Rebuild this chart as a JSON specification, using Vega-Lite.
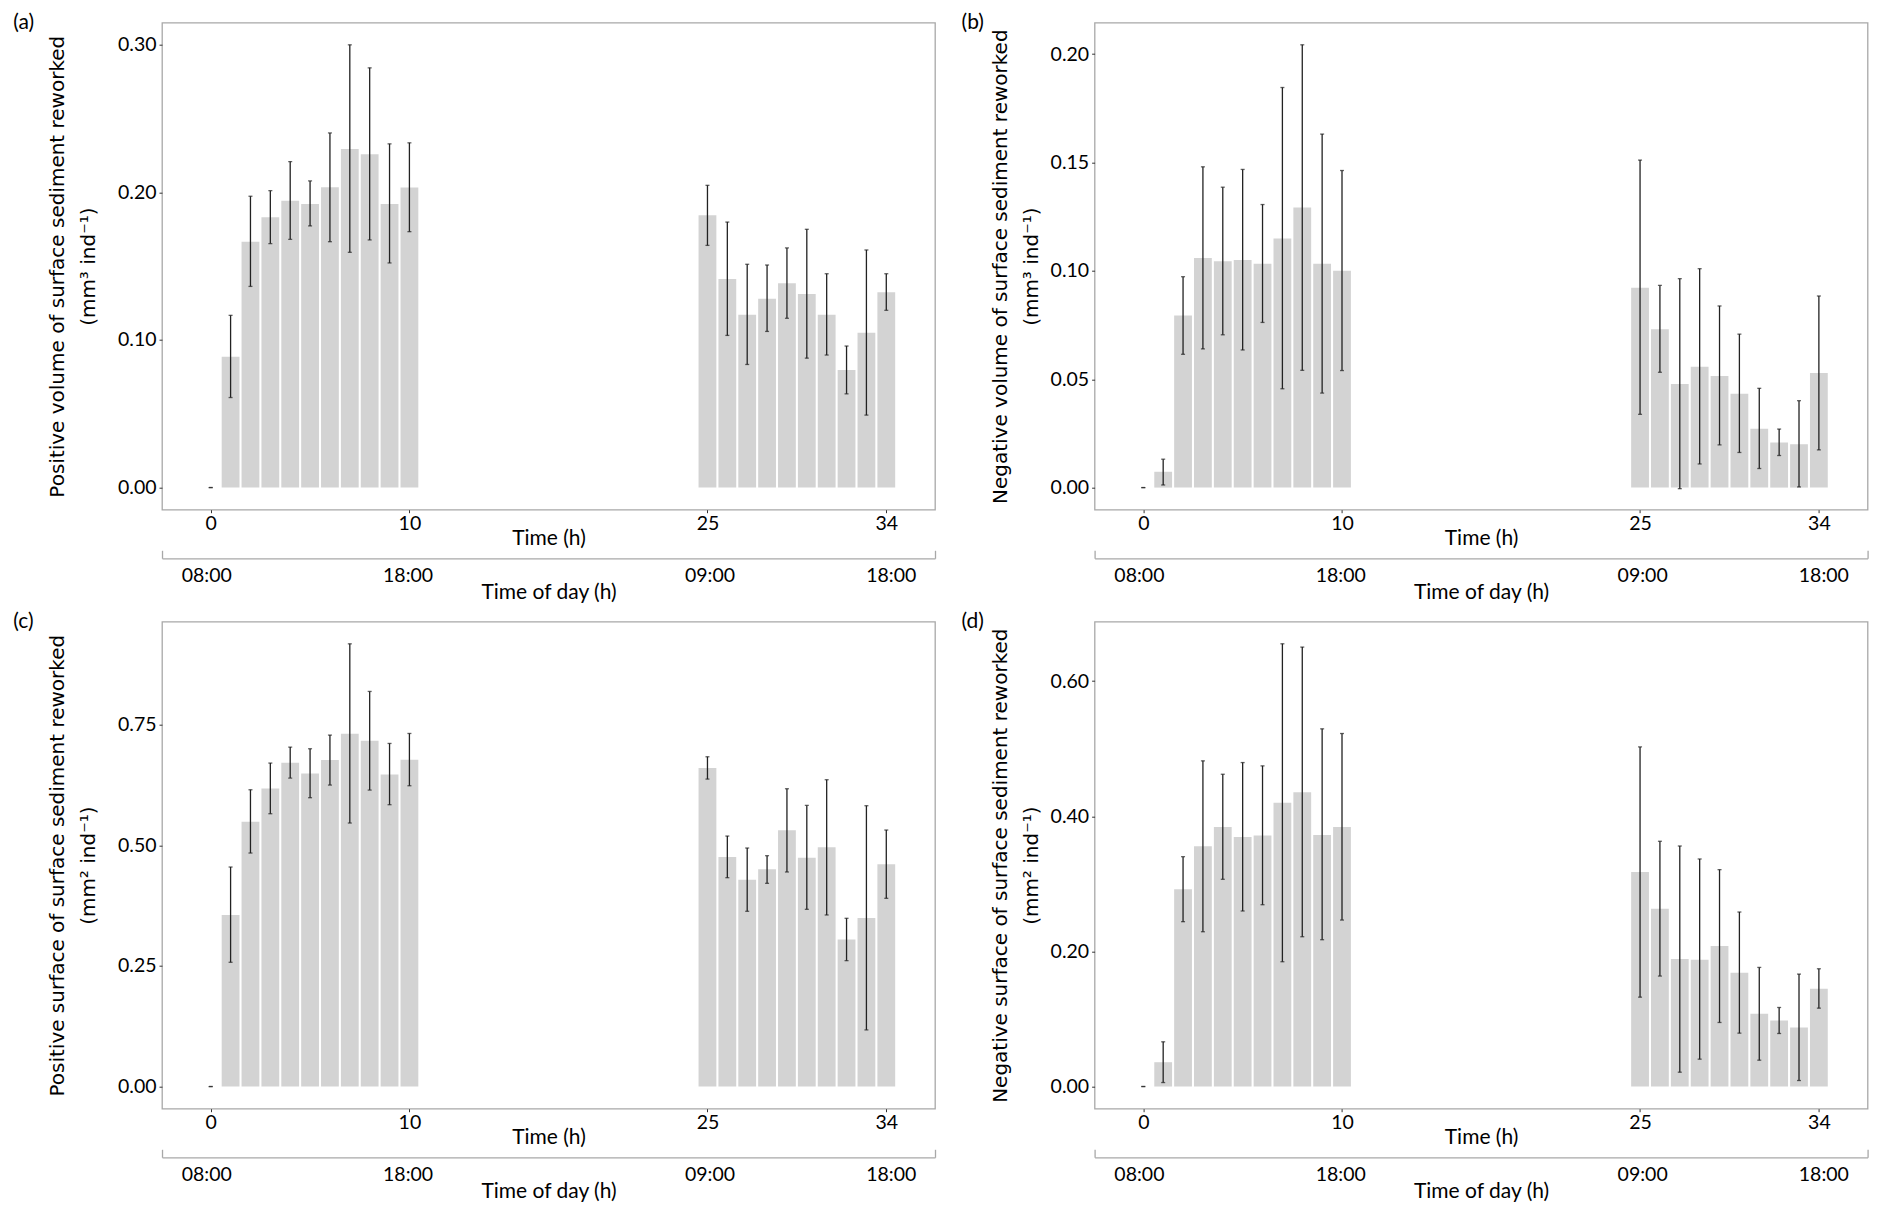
{
  "$schema": "https://vega.github.io/schema/vega-lite/v6.json",
  "padding": {"left": 12, "top": 10.7, "right": 5, "bottom": 5},
  "background": "white",
  "datasets": {
    "a": [
      {"t": 0, "mean": 0, "lo": 0, "hi": 0},
      {"t": 1, "mean": 0.0886, "lo": 0.0610, "hi": 0.1167},
      {"t": 2, "mean": 0.1666, "lo": 0.1363, "hi": 0.1974},
      {"t": 3, "mean": 0.1831, "lo": 0.1653, "hi": 0.2012},
      {"t": 4, "mean": 0.1944, "lo": 0.1682, "hi": 0.2209},
      {"t": 5, "mean": 0.1922, "lo": 0.1773, "hi": 0.2078},
      {"t": 6, "mean": 0.2035, "lo": 0.1666, "hi": 0.2403},
      {"t": 7, "mean": 0.2295, "lo": 0.1594, "hi": 0.3000},
      {"t": 8, "mean": 0.2259, "lo": 0.1678, "hi": 0.2844},
      {"t": 9, "mean": 0.1922, "lo": 0.1522, "hi": 0.2329},
      {"t": 10, "mean": 0.2033, "lo": 0.1734, "hi": 0.2336},
      {"t": 25, "mean": 0.1845, "lo": 0.1641, "hi": 0.2048},
      {"t": 26, "mean": 0.1413, "lo": 0.1031, "hi": 0.1799},
      {"t": 27, "mean": 0.1171, "lo": 0.0834, "hi": 0.1513},
      {"t": 28, "mean": 0.1280, "lo": 0.1058, "hi": 0.1508},
      {"t": 29, "mean": 0.1384, "lo": 0.1147, "hi": 0.1624},
      {"t": 30, "mean": 0.1311, "lo": 0.0877, "hi": 0.1750},
      {"t": 31, "mean": 0.1171, "lo": 0.0898, "hi": 0.1449},
      {"t": 32, "mean": 0.0796, "lo": 0.0635, "hi": 0.0959},
      {"t": 33, "mean": 0.1049, "lo": 0.0491, "hi": 0.1610},
      {"t": 34, "mean": 0.1323, "lo": 0.1201, "hi": 0.1449}
    ],
    "b": [
      {"t": 0, "mean": 0, "lo": 0, "hi": 0},
      {"t": 1, "mean": 0.0073, "lo": 0.0012, "hi": 0.0131},
      {"t": 2, "mean": 0.0794, "lo": 0.0615, "hi": 0.0973},
      {"t": 3, "mean": 0.1059, "lo": 0.0640, "hi": 0.1480},
      {"t": 4, "mean": 0.1044, "lo": 0.0705, "hi": 0.1386},
      {"t": 5, "mean": 0.1050, "lo": 0.0635, "hi": 0.1468},
      {"t": 6, "mean": 0.1033, "lo": 0.0762, "hi": 0.1306},
      {"t": 7, "mean": 0.1149, "lo": 0.0456, "hi": 0.1846},
      {"t": 8, "mean": 0.1292, "lo": 0.0541, "hi": 0.2043},
      {"t": 9, "mean": 0.1033, "lo": 0.0436, "hi": 0.1631},
      {"t": 10, "mean": 0.1001, "lo": 0.0540, "hi": 0.1463},
      {"t": 25, "mean": 0.0922, "lo": 0.0338, "hi": 0.1511},
      {"t": 26, "mean": 0.0731, "lo": 0.0532, "hi": 0.0933},
      {"t": 27, "mean": 0.0478, "lo": -0.0005, "hi": 0.0964},
      {"t": 28, "mean": 0.0558, "lo": 0.0109, "hi": 0.1010},
      {"t": 29, "mean": 0.0515, "lo": 0.0197, "hi": 0.0838},
      {"t": 30, "mean": 0.0433, "lo": 0.0162, "hi": 0.0708},
      {"t": 31, "mean": 0.0271, "lo": 0.0088, "hi": 0.0458},
      {"t": 32, "mean": 0.0208, "lo": 0.0148, "hi": 0.0270},
      {"t": 33, "mean": 0.0200, "lo": 0.0003, "hi": 0.0401},
      {"t": 34, "mean": 0.0529, "lo": 0.0174, "hi": 0.0884}
    ],
    "c": [
      {"t": 0, "mean": 0, "lo": 0, "hi": 0},
      {"t": 1, "mean": 0.3557, "lo": 0.2576, "hi": 0.4551},
      {"t": 2, "mean": 0.5490, "lo": 0.4841, "hi": 0.6153},
      {"t": 3, "mean": 0.6181, "lo": 0.5656, "hi": 0.6706},
      {"t": 4, "mean": 0.6713, "lo": 0.6395, "hi": 0.7037},
      {"t": 5, "mean": 0.6492, "lo": 0.5988, "hi": 0.7003},
      {"t": 6, "mean": 0.6768, "lo": 0.6250, "hi": 0.7286},
      {"t": 7, "mean": 0.7314, "lo": 0.5463, "hi": 0.9178},
      {"t": 8, "mean": 0.7169, "lo": 0.6146, "hi": 0.8191},
      {"t": 9, "mean": 0.6471, "lo": 0.5843, "hi": 0.7113},
      {"t": 10, "mean": 0.6775, "lo": 0.6236, "hi": 0.7320},
      {"t": 25, "mean": 0.6602, "lo": 0.6374, "hi": 0.6837},
      {"t": 26, "mean": 0.4758, "lo": 0.4330, "hi": 0.5193},
      {"t": 27, "mean": 0.4289, "lo": 0.3633, "hi": 0.4945},
      {"t": 28, "mean": 0.4503, "lo": 0.4213, "hi": 0.4786},
      {"t": 29, "mean": 0.5311, "lo": 0.4448, "hi": 0.6174},
      {"t": 30, "mean": 0.4745, "lo": 0.3674, "hi": 0.5829},
      {"t": 31, "mean": 0.4959, "lo": 0.3557, "hi": 0.6361},
      {"t": 32, "mean": 0.3046, "lo": 0.2610, "hi": 0.3488},
      {"t": 33, "mean": 0.3494, "lo": 0.1174, "hi": 0.5822},
      {"t": 34, "mean": 0.4606, "lo": 0.3902, "hi": 0.5318}
    ],
    "d": [
      {"t": 0, "mean": 0, "lo": 0, "hi": 0},
      {"t": 1, "mean": 0.0360, "lo": 0.0059, "hi": 0.0662},
      {"t": 2, "mean": 0.2919, "lo": 0.2440, "hi": 0.3402},
      {"t": 3, "mean": 0.3556, "lo": 0.2291, "hi": 0.4820},
      {"t": 4, "mean": 0.3842, "lo": 0.3067, "hi": 0.4622},
      {"t": 5, "mean": 0.3694, "lo": 0.2598, "hi": 0.4795},
      {"t": 6, "mean": 0.3714, "lo": 0.2691, "hi": 0.4746},
      {"t": 7, "mean": 0.4202, "lo": 0.1847, "hi": 0.6553},
      {"t": 8, "mean": 0.4356, "lo": 0.2217, "hi": 0.6504},
      {"t": 9, "mean": 0.3723, "lo": 0.2173, "hi": 0.5294},
      {"t": 10, "mean": 0.3842, "lo": 0.2464, "hi": 0.5225},
      {"t": 25, "mean": 0.3175, "lo": 0.1323, "hi": 0.5027},
      {"t": 26, "mean": 0.2632, "lo": 0.1635, "hi": 0.3630},
      {"t": 27, "mean": 0.1886, "lo": 0.0212, "hi": 0.3560},
      {"t": 28, "mean": 0.1877, "lo": 0.0405, "hi": 0.3368},
      {"t": 29, "mean": 0.2079, "lo": 0.0948, "hi": 0.3210},
      {"t": 30, "mean": 0.1684, "lo": 0.0790, "hi": 0.2583},
      {"t": 31, "mean": 0.1077, "lo": 0.0390, "hi": 0.1763},
      {"t": 32, "mean": 0.0978, "lo": 0.0785, "hi": 0.1170},
      {"t": 33, "mean": 0.0874, "lo": 0.0089, "hi": 0.1664},
      {"t": 34, "mean": 0.1447, "lo": 0.1160, "hi": 0.1743}
    ]
  },
  "config": {
    "view": {"stroke": "#a8a8a8", "strokeWidth": 1.3},
    "axis": {"grid": false, "labelFont": "Lato", "labelFontSize": 19.5, "labelColor": "#000", "titleFont": "Lato", "titleFontWeight": "normal", "titleColor": "#000"},
    "title": {"font": "Lato", "fontSize": 21, "fontWeight": "normal", "color": "#000"}
  },
  "columns": 2,
  "bounds": "flush",
  "spacing": {"row": 112, "column": 159.6},
  "concat": [
    {
      "data": {"name": "a"},
      "width": 773, "height": 487,
      "title": {"text": "(a)", "anchor": "start", "frame": "group", "dx": -148.7, "offset": -10.5, "baseline": "top"},
      "layer": [
        {
          "encoding": {
            "x": {"field": "t", "type": "quantitative", "scale": {"domain": [-2.2, 36.2], "nice": false, "zero": false},
              "axis": {"values": [0, 10, 25, 34], "title": "Time (h)", "domain": false, "tickSize": 3, "tickColor": "#333", "labelPadding": 2, "titleFontSize": 21, "titlePadding": -6, "labelOverlap": false, "labelFlush": false}}
          },
          "layer": [
            {"mark": {"type": "bar", "color": "#d3d3d3", "width": 17.8},
             "encoding": {"y": {"field": "mean", "type": "quantitative", "scale": {"domain": [-0.015, 0.315], "nice": false, "zero": false},
               "axis": {"values": [0, 0.1, 0.2, 0.3], "format": ".2f", "title": ["Positive volume of surface sediment reworked", "(mm³ ind⁻¹)"], "domain": false, "tickSize": 3, "tickColor": "#333", "labelPadding": 3, "titleFont": "DejaVu Sans", "titleFontSize": 20, "titlePadding": 19, "titleLineHeight": 31}}}},
            {"mark": {"type": "rule", "color": "#222", "strokeWidth": 1.3},
             "encoding": {"y": {"field": "lo", "type": "quantitative"}, "y2": {"field": "hi"}}},
            {"mark": {"type": "tick", "orient": "horizontal", "color": "#222", "size": 4, "thickness": 1.3},
             "encoding": {"y": {"field": "lo", "type": "quantitative"}}},
            {"mark": {"type": "tick", "orient": "horizontal", "color": "#222", "size": 4, "thickness": 1.3},
             "encoding": {"y": {"field": "hi", "type": "quantitative"}}}
          ]
        },
        {
          "mark": {"type": "point", "opacity": 0},
          "encoding": {
            "x": {"field": "t", "type": "quantitative", "scale": {"domain": [-2.2, 36.2], "nice": false, "zero": false},
              "axis": {"orient": "bottom", "offset": 48.6, "values": [-2.2, 0, 10, 25, 34, 36.2], "labelExpr": "datum.value == 0 ? '08:00' : datum.value == 10 ? '18:00' : datum.value == 25 ? '09:00' : datum.value == 34 ? '18:00' : ''", "title": "Time of day (h)", "domain": true, "domainColor": "#a8a8a8", "domainWidth": 1.3, "tickSize": -8, "tickColor": "#a8a8a8", "tickWidth": 1.3, "tickOpacity": {"condition": {"test": "datum.value < -1 || datum.value > 35", "value": 1}, "value": 0}, "labelPadding": 16, "titleFontSize": 21, "titlePadding": -3, "labelOverlap": false, "labelFlush": false}}
          }
        }
      ],
      "resolve": {"scale": {"x": "independent"}}
    },
    {
      "data": {"name": "b"},
      "width": 773, "height": 487,
      "title": {"text": "(b)", "anchor": "start", "frame": "group", "dx": -133, "offset": -10.5, "baseline": "top"},
      "layer": [
        {
          "encoding": {
            "x": {"field": "t", "type": "quantitative", "scale": {"domain": [-2.2, 36.2], "nice": false, "zero": false},
              "axis": {"values": [0, 10, 25, 34], "title": "Time (h)", "domain": false, "tickSize": 3, "tickColor": "#333", "labelPadding": 2, "titleFontSize": 21, "titlePadding": -6, "labelOverlap": false, "labelFlush": false}}
          },
          "layer": [
            {"mark": {"type": "bar", "color": "#d3d3d3", "width": 17.8},
             "encoding": {"y": {"field": "mean", "type": "quantitative", "scale": {"domain": [-0.0102, 0.2145], "nice": false, "zero": false},
               "axis": {"values": [0, 0.05, 0.1, 0.15, 0.2], "format": ".2f", "title": ["Negative volume of surface sediment reworked", "(mm³ ind⁻¹)"], "domain": false, "tickSize": 3, "tickColor": "#333", "labelPadding": 3, "titleFont": "DejaVu Sans", "titleFontSize": 20, "titlePadding": 9, "titleLineHeight": 31}}}},
            {"mark": {"type": "rule", "color": "#222", "strokeWidth": 1.3},
             "encoding": {"y": {"field": "lo", "type": "quantitative"}, "y2": {"field": "hi"}}},
            {"mark": {"type": "tick", "orient": "horizontal", "color": "#222", "size": 4, "thickness": 1.3},
             "encoding": {"y": {"field": "lo", "type": "quantitative"}}},
            {"mark": {"type": "tick", "orient": "horizontal", "color": "#222", "size": 4, "thickness": 1.3},
             "encoding": {"y": {"field": "hi", "type": "quantitative"}}}
          ]
        },
        {
          "mark": {"type": "point", "opacity": 0},
          "encoding": {
            "x": {"field": "t", "type": "quantitative", "scale": {"domain": [-2.2, 36.2], "nice": false, "zero": false},
              "axis": {"orient": "bottom", "offset": 48.6, "values": [-2.2, 0, 10, 25, 34, 36.2], "labelExpr": "datum.value == 0 ? '08:00' : datum.value == 10 ? '18:00' : datum.value == 25 ? '09:00' : datum.value == 34 ? '18:00' : ''", "title": "Time of day (h)", "domain": true, "domainColor": "#a8a8a8", "domainWidth": 1.3, "tickSize": -8, "tickColor": "#a8a8a8", "tickWidth": 1.3, "tickOpacity": {"condition": {"test": "datum.value < -1 || datum.value > 35", "value": 1}, "value": 0}, "labelPadding": 16, "titleFontSize": 21, "titlePadding": -3, "labelOverlap": false, "labelFlush": false}}
          }
        }
      ],
      "resolve": {"scale": {"x": "independent"}}
    },
    {
      "data": {"name": "c"},
      "width": 773, "height": 487,
      "title": {"text": "(c)", "anchor": "start", "frame": "group", "dx": -148.7, "offset": -10.5, "baseline": "top"},
      "layer": [
        {
          "encoding": {
            "x": {"field": "t", "type": "quantitative", "scale": {"domain": [-2.2, 36.2], "nice": false, "zero": false},
              "axis": {"values": [0, 10, 25, 34], "title": "Time (h)", "domain": false, "tickSize": 3, "tickColor": "#333", "labelPadding": 2, "titleFontSize": 21, "titlePadding": -6, "labelOverlap": false, "labelFlush": false}}
          },
          "layer": [
            {"mark": {"type": "bar", "color": "#d3d3d3", "width": 17.8},
             "encoding": {"y": {"field": "mean", "type": "quantitative", "scale": {"domain": [-0.0459, 0.9637], "nice": false, "zero": false},
               "axis": {"values": [0, 0.25, 0.5, 0.75], "format": ".2f", "title": ["Positive surface of surface sediment reworked", "(mm² ind⁻¹)"], "domain": false, "tickSize": 3, "tickColor": "#333", "labelPadding": 3, "titleFont": "DejaVu Sans", "titleFontSize": 20, "titlePadding": 19, "titleLineHeight": 31}}}},
            {"mark": {"type": "rule", "color": "#222", "strokeWidth": 1.3},
             "encoding": {"y": {"field": "lo", "type": "quantitative"}, "y2": {"field": "hi"}}},
            {"mark": {"type": "tick", "orient": "horizontal", "color": "#222", "size": 4, "thickness": 1.3},
             "encoding": {"y": {"field": "lo", "type": "quantitative"}}},
            {"mark": {"type": "tick", "orient": "horizontal", "color": "#222", "size": 4, "thickness": 1.3},
             "encoding": {"y": {"field": "hi", "type": "quantitative"}}}
          ]
        },
        {
          "mark": {"type": "point", "opacity": 0},
          "encoding": {
            "x": {"field": "t", "type": "quantitative", "scale": {"domain": [-2.2, 36.2], "nice": false, "zero": false},
              "axis": {"orient": "bottom", "offset": 48.6, "values": [-2.2, 0, 10, 25, 34, 36.2], "labelExpr": "datum.value == 0 ? '08:00' : datum.value == 10 ? '18:00' : datum.value == 25 ? '09:00' : datum.value == 34 ? '18:00' : ''", "title": "Time of day (h)", "domain": true, "domainColor": "#a8a8a8", "domainWidth": 1.3, "tickSize": -8, "tickColor": "#a8a8a8", "tickWidth": 1.3, "tickOpacity": {"condition": {"test": "datum.value < -1 || datum.value > 35", "value": 1}, "value": 0}, "labelPadding": 16, "titleFontSize": 21, "titlePadding": -3, "labelOverlap": false, "labelFlush": false}}
          }
        }
      ],
      "resolve": {"scale": {"x": "independent"}}
    },
    {
      "data": {"name": "d"},
      "width": 773, "height": 487,
      "title": {"text": "(d)", "anchor": "start", "frame": "group", "dx": -133, "offset": -10.5, "baseline": "top"},
      "layer": [
        {
          "encoding": {
            "x": {"field": "t", "type": "quantitative", "scale": {"domain": [-2.2, 36.2], "nice": false, "zero": false},
              "axis": {"values": [0, 10, 25, 34], "title": "Time (h)", "domain": false, "tickSize": 3, "tickColor": "#333", "labelPadding": 2, "titleFontSize": 21, "titlePadding": -6, "labelOverlap": false, "labelFlush": false}}
          },
          "layer": [
            {"mark": {"type": "bar", "color": "#d3d3d3", "width": 17.8},
             "encoding": {"y": {"field": "mean", "type": "quantitative", "scale": {"domain": [-0.0328, 0.688], "nice": false, "zero": false},
               "axis": {"values": [0, 0.2, 0.4, 0.6], "format": ".2f", "title": ["Negative surface of surface sediment reworked", "(mm² ind⁻¹)"], "domain": false, "tickSize": 3, "tickColor": "#333", "labelPadding": 3, "titleFont": "DejaVu Sans", "titleFontSize": 20, "titlePadding": 9, "titleLineHeight": 31}}}},
            {"mark": {"type": "rule", "color": "#222", "strokeWidth": 1.3},
             "encoding": {"y": {"field": "lo", "type": "quantitative"}, "y2": {"field": "hi"}}},
            {"mark": {"type": "tick", "orient": "horizontal", "color": "#222", "size": 4, "thickness": 1.3},
             "encoding": {"y": {"field": "lo", "type": "quantitative"}}},
            {"mark": {"type": "tick", "orient": "horizontal", "color": "#222", "size": 4, "thickness": 1.3},
             "encoding": {"y": {"field": "hi", "type": "quantitative"}}}
          ]
        },
        {
          "mark": {"type": "point", "opacity": 0},
          "encoding": {
            "x": {"field": "t", "type": "quantitative", "scale": {"domain": [-2.2, 36.2], "nice": false, "zero": false},
              "axis": {"orient": "bottom", "offset": 48.6, "values": [-2.2, 0, 10, 25, 34, 36.2], "labelExpr": "datum.value == 0 ? '08:00' : datum.value == 10 ? '18:00' : datum.value == 25 ? '09:00' : datum.value == 34 ? '18:00' : ''", "title": "Time of day (h)", "domain": true, "domainColor": "#a8a8a8", "domainWidth": 1.3, "tickSize": -8, "tickColor": "#a8a8a8", "tickWidth": 1.3, "tickOpacity": {"condition": {"test": "datum.value < -1 || datum.value > 35", "value": 1}, "value": 0}, "labelPadding": 16, "titleFontSize": 21, "titlePadding": -3, "labelOverlap": false, "labelFlush": false}}
          }
        }
      ],
      "resolve": {"scale": {"x": "independent"}}
    }
  ]
}
